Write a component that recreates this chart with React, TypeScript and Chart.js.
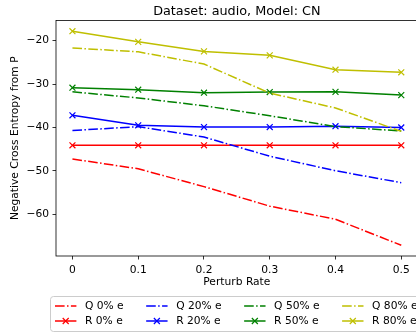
import React, { useEffect, useRef } from 'react';
import { Chart, registerables } from 'chart.js';

Chart.register(...registerables);

const FONT = '"DejaVu Sans", sans-serif';

const chartTitle = 'Dataset: audio, Model: CN';
const xTitle = 'Perturb Rate';
const yTitle = 'Negative Cross Entropy from P';

const xValues = [0, 0.1, 0.2, 0.3, 0.4, 0.5];
const xTickLabels = ['0', '0.1', '0.2', '0.3', '0.4', '0.5'];
const yTickValues = [-60, -50, -40, -30, -20];

const q0 = [-47.25, -49.5, -53.6, -58.1, -61.1, -67.1];
const r0 = [-44.1, -44.1, -44.1, -44.1, -44.1, -44.1];
const q20 = [-40.7, -39.8, -42.2, -46.6, -49.95, -52.7];
const r20 = [-37.2, -39.5, -39.9, -39.9, -39.7, -40.0];
const q50 = [-31.8, -33.2, -35.0, -37.3, -39.8, -40.8];
const r50 = [-30.85, -31.3, -32.0, -31.85, -31.8, -32.55];
const q80 = [-21.7, -22.6, -25.4, -32.1, -35.5, -40.9];
const r80 = [-17.85, -20.3, -22.5, -23.4, -26.7, -27.3];

const seriesLabels = ['Q 0% e', 'R 0% e', 'Q 20% e', 'R 20% e', 'Q 50% e', 'R 50% e', 'Q 80% e', 'R 80% e'];
const seriesValues = [q0, r0, q20, r20, q50, r50, q80, r80];
const seriesColors = ['#ff0000', '#ff0000', '#0000ff', '#0000ff', '#008000', '#008000', '#bfbf00', '#bfbf00'];
const seriesIsDashed = [true, false, true, false, true, false, true, false];

const DASH = [9.6, 2.4, 1.5, 2.4];
const FS = 10.7;
const TITLE_FS = 12.8;

export default function App() {
  const canvasRef = useRef<HTMLCanvasElement | null>(null);

  useEffect(() => {
    const canvas = canvasRef.current;
    if (!canvas) return;

    const all = seriesValues.flat();
    const dMin = Math.min(...all);
    const dMax = Math.max(...all);
    const span = dMax - dMin;
    const yMin = dMin - 0.05 * span;
    const yMax = dMax + 0.05 * span;

    const n = seriesLabels.length;
    const datasets = seriesLabels.map((label, i) => ({
      label,
      data: xValues.map((x, j) => ({ x, y: seriesValues[i][j] })),
      borderColor: seriesColors[i],
      backgroundColor: seriesColors[i],
      borderWidth: 1.5,
      borderDash: seriesIsDashed[i] ? DASH : [],
      pointStyle: 'crossRot' as const,
      pointRadius: seriesIsDashed[i] ? 0 : 4.2,
      pointHoverRadius: seriesIsDashed[i] ? 0 : 4.2,
      pointBorderWidth: 1.2,
      pointBorderColor: seriesColors[i],
      fill: false,
      tension: 0,
      order: n - 1 - i,
    }));

    const decor = {
      id: 'decor',
      afterDraw(chart: any) {
        const { ctx, chartArea: a } = chart;
        ctx.save();
        // spines
        ctx.strokeStyle = '#000';
        ctx.lineWidth = 0.8;
        ctx.setLineDash([]);
        ctx.strokeRect(a.left, a.top, a.right - a.left, a.bottom - a.top);
        // title
        ctx.fillStyle = '#000';
        ctx.font = `${TITLE_FS}px ${FONT}`;
        ctx.textAlign = 'center';
        ctx.textBaseline = 'alphabetic';
        ctx.fillText(chartTitle, (a.left + a.right) / 2, a.top - 5.8);

        // legend
        ctx.font = `${FS}px ${FONT}`;
        const frameLeft = 50.5;
        const frameTop = 296.5;
        const frameBottom = 331.5;
        const pad = 4.5;
        const handleLen = 2 * FS;
        const textGap = 0.8 * FS;
        const colSpacing = 2.1 * FS;
        const rowY = [306, 321];
        const ncol = Math.ceil(n / 2);
        const colX: number[] = [];
        let x = frameLeft + pad;
        for (let c = 0; c < ncol; c++) {
          colX.push(x);
          const w = Math.max(
            ctx.measureText(seriesLabels[2 * c]).width,
            seriesLabels[2 * c + 1] ? ctx.measureText(seriesLabels[2 * c + 1]).width : 0
          );
          x += handleLen + textGap + w + colSpacing;
        }
        const frameRight = x - colSpacing + pad;
        // frame
        const r = 3;
        ctx.beginPath();
        ctx.moveTo(frameLeft + r, frameTop);
        ctx.lineTo(frameRight - r, frameTop);
        ctx.quadraticCurveTo(frameRight, frameTop, frameRight, frameTop + r);
        ctx.lineTo(frameRight, frameBottom - r);
        ctx.quadraticCurveTo(frameRight, frameBottom, frameRight - r, frameBottom);
        ctx.lineTo(frameLeft + r, frameBottom);
        ctx.quadraticCurveTo(frameLeft, frameBottom, frameLeft, frameBottom - r);
        ctx.lineTo(frameLeft, frameTop + r);
        ctx.quadraticCurveTo(frameLeft, frameTop, frameLeft + r, frameTop);
        ctx.closePath();
        ctx.fillStyle = 'rgba(255,255,255,0.8)';
        ctx.fill();
        ctx.strokeStyle = '#cccccc';
        ctx.lineWidth = 1;
        ctx.stroke();

        for (let k = 0; k < n; k++) {
          const c = Math.floor(k / 2);
          const row = k % 2;
          const hx = colX[c];
          const hy = rowY[row];
          ctx.strokeStyle = seriesColors[k];
          ctx.lineWidth = 1.5;
          ctx.setLineDash(seriesIsDashed[k] ? DASH : []);
          ctx.beginPath();
          ctx.moveTo(hx, hy);
          ctx.lineTo(hx + handleLen, hy);
          ctx.stroke();
          ctx.setLineDash([]);
          if (!seriesIsDashed[k]) {
            const cx = hx + handleLen / 2;
            const m = 3;
            ctx.lineWidth = 1.2;
            ctx.beginPath();
            ctx.moveTo(cx - m, hy - m);
            ctx.lineTo(cx + m, hy + m);
            ctx.moveTo(cx - m, hy + m);
            ctx.lineTo(cx + m, hy - m);
            ctx.stroke();
          }
          ctx.fillStyle = '#000';
          ctx.textAlign = 'left';
          ctx.textBaseline = 'middle';
          ctx.fillText(seriesLabels[k], hx + handleLen + textGap, hy);
        }
        ctx.restore();
      },
    };

    const tickFont = { family: FONT, size: FS };
    const minus = (v: number) => (v < 0 ? '\u2212' + Math.abs(v) : String(v));

    const chart = new Chart(canvas, {
      type: 'line',
      data: { datasets: datasets as any },
      options: {
        animation: false,
        responsive: false,
        maintainAspectRatio: false,
        layout: { padding: { left: 0, top: 20.5, right: 22.3, bottom: 44.9 } },
        plugins: {
          legend: { display: false },
          title: { display: false },
          tooltip: { enabled: false },
        },
        scales: {
          x: {
            type: 'linear',
            min: -0.025,
            max: 0.525,
            afterBuildTicks: (s: any) => {
              s.ticks = xValues.map((v) => ({ value: v }));
            },
            afterFit: (s: any) => {
              s.height = 33.1;
            },
            ticks: {
              callback: (_v: any, i: number) => xTickLabels[i],
              font: tickFont,
              color: '#000',
              padding: 4,
              maxRotation: 0,
              autoSkip: false,
            },
            grid: {
              display: true,
              drawOnChartArea: false,
              drawTicks: true,
              tickLength: 3.5,
              tickColor: '#000',
              tickWidth: 0.8,
            },
            border: { display: false },
            title: { display: true, text: xTitle, font: tickFont, color: '#000', padding: 0 },
          },
          y: {
            type: 'linear',
            min: yMin,
            max: yMax,
            afterBuildTicks: (s: any) => {
              s.ticks = yTickValues.map((v) => ({ value: v }));
            },
            afterFit: (s: any) => {
              s.width = 56;
            },
            ticks: {
              callback: (v: any) => minus(Number(v)),
              font: tickFont,
              color: '#000',
              padding: 3.5,
              autoSkip: false,
            },
            grid: {
              display: true,
              drawOnChartArea: false,
              drawTicks: true,
              tickLength: 3.5,
              tickColor: '#000',
              tickWidth: 0.8,
            },
            border: { display: false },
            title: {
              display: true,
              text: yTitle,
              font: tickFont,
              color: '#000',
              padding: { top: 9, bottom: 0 },
            },
          },
        },
      },
      plugins: [decor],
    });

    return () => chart.destroy();
  }, []);

  return (
    <div
      style={{
        position: 'fixed',
        left: 0,
        top: 0,
        width: 416,
        height: 334,
        overflow: 'hidden',
        background: '#fff',
      }}
    >
      <canvas ref={canvasRef} width={440} height={334} style={{ display: 'block', width: 440, height: 334 }} />
    </div>
  );
}
